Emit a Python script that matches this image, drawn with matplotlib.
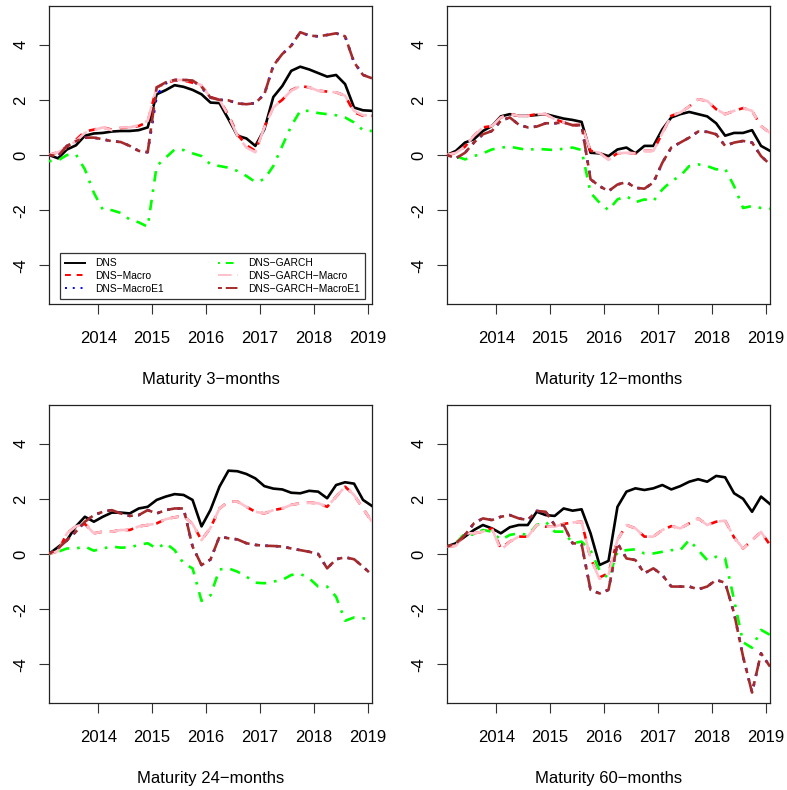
import numpy as np
import matplotlib
matplotlib.use("Agg")
import matplotlib.pyplot as plt

plt.rcParams['font.family'] = ['Liberation Sans', 'DejaVu Sans']

# time grid: every two months from Feb 2013 to Feb 2019
t = 2013 + 1/12 + np.arange(37) / 6.0

series_names = ["DNS", "DNS\u2212Macro", "DNS\u2212MacroE1",
                "DNS\u2212GARCH", "DNS\u2212GARCH\u2212Macro", "DNS\u2212GARCH\u2212MacroE1"]
colors = ["black", "red", "blue", "#00ff00", "pink", "brown"]
dashes = [None, (3, 3), (1, 3), (1, 3, 4, 3), (7, 3), (2, 2, 6, 2)]

maturities = ["3", "12", "24", "60"]
year_ticks = [2014, 2015, 2016, 2017, 2018, 2019]
y_ticks = [-4, -2, 0, 2, 4]

# ---- Maturity 3-months ----
m3_dns = [0.0, -0.12, 0.2, 0.35, 0.7, 0.78, 0.8, 0.85, 0.87, 0.87, 0.9, 1.0, 2.2, 2.35, 2.53, 2.47, 2.36, 2.2,
          1.9, 1.88, 1.3, 0.7, 0.6, 0.33, 0.93, 2.1, 2.5, 3.05, 3.2, 3.1, 2.97, 2.84, 2.9, 2.57, 1.72, 1.62, 1.6]
m3_macro = [0.0, 0.1, 0.3, 0.55, 0.85, 0.92, 1.0, 0.92, 0.98, 1.0, 1.05, 1.2, 2.45, 2.6, 2.7, 2.7, 2.62, 2.5,
            2.1, 2.0, 1.45, 0.75, 0.35, 0.15, 1.0, 1.75, 2.0, 2.35, 2.5, 2.45, 2.33, 2.3, 2.27, 2.15, 1.55, 1.42, 1.42]
m3_macroe1 = [0.0, -0.04, 0.33, 0.5, 0.63, 0.63, 0.57, 0.5, 0.47, 0.33, 0.15, 0.1, 2.15, 2.6, 2.72, 2.72, 2.7, 2.45,
              2.08, 2.0, 1.98, 1.87, 1.84, 1.88, 2.2, 3.24, 3.66, 3.96, 4.45, 4.33, 4.3, 4.35, 4.41, 4.3, 3.36, 2.9, 2.78]
m3_garch = [-0.22, -0.2, 0.0, 0.02, -0.52, -1.37, -1.98, -2.0, -2.1, -2.34, -2.44, -2.6, -0.4, -0.1, 0.2, 0.18, 0.06, -0.04,
            -0.34, -0.4, -0.46, -0.58, -0.76, -0.98, -0.88, -0.4, 0.33, 1.05, 1.6, 1.6, 1.52, 1.48, 1.44, 1.36, 1.18, 0.9, 0.87]
m3_garch_macro = [0.0, 0.1, 0.27, 0.5, 0.8, 0.9, 1.0, 0.9, 1.0, 1.0, 1.08, 1.24, 2.45, 2.63, 2.72, 2.72, 2.65, 2.53,
                  2.08, 2.0, 1.42, 0.7, 0.27, 0.1, 1.0, 1.72, 2.0, 2.33, 2.5, 2.45, 2.33, 2.3, 2.27, 2.15, 1.6, 1.44, 1.44]
m3_garch_macroe1 = [0.0, -0.04, 0.33, 0.5, 0.63, 0.63, 0.57, 0.5, 0.47, 0.33, 0.15, 0.1, 2.45, 2.63, 2.72, 2.72, 2.7, 2.48,
                    2.08, 2.0, 1.98, 1.87, 1.84, 1.88, 2.2, 3.24, 3.66, 3.96, 4.45, 4.33, 4.3, 4.35, 4.41, 4.3, 3.36, 2.9, 2.78]

# ---- Maturity 12-months ----
m12_dns = [0.0, 0.15, 0.45, 0.57, 0.87, 1.05, 1.4, 1.48, 1.42, 1.42, 1.45, 1.48, 1.4, 1.32, 1.27, 1.2, 0.08, 0.06,
           -0.04, 0.2, 0.27, 0.06, 0.33, 0.33, 0.93, 1.36, 1.48, 1.56, 1.48, 1.4, 1.15, 0.7, 0.8, 0.8, 0.9, 0.33, 0.15]
m12_macro = [0.0, 0.08, 0.3, 0.7, 1.0, 1.05, 1.36, 1.48, 1.42, 1.42, 1.48, 1.48, 1.3, 1.18, 1.08, 1.1, 0.15, 0.08,
             -0.15, 0.06, 0.08, 0.06, 0.15, 0.15, 0.8, 1.42, 1.54, 1.76, 2.02, 1.96, 1.66, 1.48, 1.6, 1.7, 1.6, 1.05, 0.8]
m12_macroe1 = [0.0, -0.12, 0.08, 0.45, 0.75, 0.87, 1.24, 1.36, 1.1, 1.0, 1.03, 1.15, 1.15, 1.18, 1.08, 1.08, -0.88, -1.13,
               -1.31, -1.07, -0.98, -1.19, -1.22, -1.0, -0.28, 0.27, 0.45, 0.63, 0.85, 0.84, 0.75, 0.33, 0.45, 0.51, 0.45, -0.04, -0.34]
m12_garch = [0.0, -0.04, -0.16, -0.04, 0.06, 0.2, 0.27, 0.3, 0.24, 0.18, 0.23, 0.2, 0.18, 0.23, 0.27, 0.18, -1.37, -1.73,
             -2.0, -1.61, -1.49, -1.71, -1.61, -1.67, -1.25, -0.95, -0.76, -0.4, -0.34, -0.4, -0.52, -0.5, -1.13, -1.92, -1.85, -1.92, -1.95]
m12_garch_macro = [0.0, 0.08, 0.3, 0.7, 1.0, 1.05, 1.36, 1.48, 1.42, 1.42, 1.48, 1.48, 1.3, 1.18, 1.08, 1.1, 0.15, 0.08,
                   -0.18, 0.06, 0.08, 0.06, 0.15, 0.15, 0.8, 1.42, 1.54, 1.76, 2.02, 1.96, 1.66, 1.48, 1.6, 1.7, 1.6, 1.05, 0.8]
m12_garch_macroe1 = [0.0, -0.12, 0.08, 0.45, 0.75, 0.87, 1.24, 1.36, 1.1, 1.0, 1.03, 1.15, 1.15, 1.18, 1.08, 1.08, -0.88, -1.13,
                     -1.31, -1.07, -0.98, -1.19, -1.22, -1.0, -0.28, 0.27, 0.45, 0.63, 0.85, 0.84, 0.75, 0.33, 0.45, 0.51, 0.45, -0.04, -0.34]

# ---- Maturity 24-months ----
m24_dns = [0.0, 0.25, 0.5, 1.0, 1.35, 1.17, 1.35, 1.5, 1.5, 1.47, 1.65, 1.71, 1.96, 2.08, 2.17, 2.14, 1.96, 1.0,
           1.6, 2.44, 3.02, 3.0, 2.9, 2.74, 2.46, 2.37, 2.34, 2.22, 2.2, 2.29, 2.26, 2.02, 2.5, 2.6, 2.55, 1.96, 1.74]
m24_macro = [0.0, 0.1, 0.75, 1.0, 1.09, 0.75, 0.81, 0.81, 0.87, 0.87, 1.0, 1.05, 1.11, 1.26, 1.33, 1.38, 1.09, 0.5,
             0.95, 1.65, 1.9, 1.9, 1.71, 1.53, 1.47, 1.59, 1.65, 1.78, 1.84, 1.86, 1.84, 1.71, 2.08, 2.44, 2.14, 1.65, 1.17]
m24_macroe1 = [0.0, 0.2, 0.5, 0.81, 1.17, 1.41, 1.53, 1.59, 1.47, 1.38, 1.41, 1.59, 1.47, 1.59, 1.65, 1.65, 0.27, -0.4,
               -0.2, 0.63, 0.57, 0.53, 0.39, 0.33, 0.3, 0.29, 0.27, 0.2, 0.14, 0.08, 0.0, -0.52, -0.19, -0.12, -0.19, -0.46, -0.76]
m24_garch = [0.0, 0.08, 0.2, 0.2, 0.27, 0.12, 0.2, 0.27, 0.23, 0.24, 0.33, 0.39, 0.2, 0.39, 0.14, -0.34, -0.52, -1.7,
             -1.5, -0.56, -0.52, -0.64, -0.82, -1.04, -1.06, -1.0, -0.94, -0.76, -0.72, -0.88, -1.18, -1.18, -1.55, -2.42, -2.3, -2.33, -2.39]
m24_garch_macro = [0.0, 0.1, 0.75, 1.0, 1.09, 0.75, 0.81, 0.81, 0.87, 0.87, 1.0, 1.05, 1.11, 1.26, 1.33, 1.38, 1.09, 0.5,
                   0.95, 1.65, 1.9, 1.9, 1.71, 1.53, 1.47, 1.59, 1.65, 1.78, 1.84, 1.86, 1.84, 1.71, 2.08, 2.44, 2.14, 1.65, 1.17]
m24_garch_macroe1 = [0.0, 0.2, 0.5, 0.81, 1.17, 1.41, 1.53, 1.59, 1.47, 1.38, 1.41, 1.59, 1.47, 1.59, 1.65, 1.65, 0.27, -0.4,
                     -0.2, 0.63, 0.57, 0.53, 0.39, 0.33, 0.3, 0.29, 0.27, 0.2, 0.14, 0.08, 0.0, -0.52, -0.19, -0.12, -0.19, -0.46, -0.76]

# ---- Maturity 60-months ----
m60_dns = [0.27, 0.39, 0.63, 0.87, 1.05, 0.93, 0.75, 0.97, 1.05, 1.05, 1.53, 1.41, 1.38, 1.65, 1.57, 1.62, 0.75, -0.4,
           -0.25, 1.71, 2.26, 2.38, 2.32, 2.38, 2.5, 2.34, 2.46, 2.62, 2.71, 2.62, 2.83, 2.78, 2.2, 2.0, 1.53, 2.08, 1.81]
m60_macro = [0.27, 0.3, 0.7, 0.75, 0.81, 0.93, 0.2, 0.45, 0.63, 0.63, 1.05, 0.99, 0.99, 1.09, 1.14, 1.17, -0.16, -0.85,
             -0.7, 0.51, 1.05, 0.93, 0.63, 0.63, 0.87, 1.01, 0.93, 1.11, 1.29, 1.05, 1.17, 1.21, 0.6, 0.2, 0.5, 0.8, 0.33]
m60_macroe1 = [0.27, 0.39, 0.69, 1.11, 1.29, 1.23, 1.35, 1.41, 1.29, 1.23, 1.56, 1.53, 1.05, 1.05, 0.39, 0.36, -1.3, -1.43,
               -1.3, 0.39, -0.16, -0.22, -0.7, -0.52, -0.76, -1.18, -1.18, -1.18, -1.28, -1.18, -0.94, -1.04, -2.15, -3.72, -5.02, -3.6, -4.08]
m60_garch = [0.27, 0.39, 0.75, 0.69, 0.87, 0.81, 0.51, 0.69, 0.75, 0.69, 1.05, 1.17, 0.81, 0.81, 0.39, 0.45, 0.14, -0.6,
             -0.88, 0.08, 0.14, 0.17, 0.02, 0.02, 0.08, 0.14, 0.14, 0.51, 0.14, -0.22, -0.1, -0.16, -1.67, -3.2, -3.4, -2.75, -2.93]
m60_garch_macro = [0.27, 0.3, 0.75, 0.75, 0.81, 0.93, 0.14, 0.45, 0.63, 0.63, 1.05, 0.99, 0.99, 1.09, 1.14, 1.17, -0.16, -0.9,
                   -0.76, 0.51, 1.05, 0.93, 0.63, 0.63, 0.87, 1.01, 0.93, 1.11, 1.29, 1.05, 1.17, 1.21, 0.6, 0.2, 0.5, 0.8, 0.33]
m60_garch_macroe1 = [0.27, 0.39, 0.69, 1.11, 1.29, 1.23, 1.35, 1.41, 1.29, 1.23, 1.56, 1.53, 1.05, 1.05, 0.39, 0.36, -1.3, -1.43,
                     -1.3, 0.39, -0.16, -0.22, -0.7, -0.52, -0.76, -1.18, -1.18, -1.18, -1.28, -1.18, -0.94, -1.04, -2.15, -3.72, -5.02, -3.6, -4.08]

panels = [
    [m3_dns, m3_macro, m3_macroe1, m3_garch, m3_garch_macro, m3_garch_macroe1],
    [m12_dns, m12_macro, m12_macroe1, m12_garch, m12_garch_macro, m12_garch_macroe1],
    [m24_dns, m24_macro, m24_macroe1, m24_garch, m24_garch_macro, m24_garch_macroe1],
    [m60_dns, m60_macro, m60_macroe1, m60_garch, m60_garch_macro, m60_garch_macroe1],
]

W, H = 787, 790
fig = plt.figure(figsize=(W / 100, H / 100), dpi=100)

boxes = [(49, 6, 372, 304), (447, 6, 770, 304), (49, 405, 372, 703), (447, 405, 770, 703)]

for k, (x0, y0, x1, y1) in enumerate(boxes):
    ax = fig.add_axes([x0 / W, 1 - y1 / H, (x1 - x0) / W, (y1 - y0) / H])
    for j, vals in enumerate(panels[k]):
        line, = ax.plot(t, vals, color=colors[j], lw=1.9, label=series_names[j], zorder=2 + j)
        if dashes[j] is not None:
            line.set_dashes(dashes[j])
    ax.set_xlim(t[0], t[-1])
    ax.set_ylim(-5.4, 5.4)
    ax.set_xticks(year_ticks)
    ax.set_xticklabels([str(y) for y in year_ticks])
    ax.set_yticks(y_ticks)
    ax.set_yticklabels([str(v) for v in y_ticks], rotation=90, va='center')
    ax.tick_params(axis='both', direction='out', length=7.2, width=0.8, labelsize=12, color='#333333')
    ax.tick_params(axis='x', pad=12.5)
    ax.tick_params(axis='y', pad=7.5)
    for s in ax.spines.values():
        s.set_linewidth(0.9)
        s.set_color('#222222')
    ax.set_xlabel("Maturity " + maturities[k] + "\u2212months", fontsize=12, labelpad=18.5)
    if k == 0:
        leg = ax.legend(loc='lower left', bbox_to_anchor=(0.034, 0.0168, 0.944, 0.168), mode='expand',
                        ncol=2, fontsize=7.4, frameon=True, fancybox=False, edgecolor='black',
                        handlelength=1.9, handletextpad=1.0, labelspacing=0.28, borderpad=0.5,
                        borderaxespad=0.0, columnspacing=4.0)
        leg.get_frame().set_linewidth(0.9)
        for h in leg.get_lines():
            h.set_linewidth(1.4)

fig.savefig("out.png", dpi=100)
